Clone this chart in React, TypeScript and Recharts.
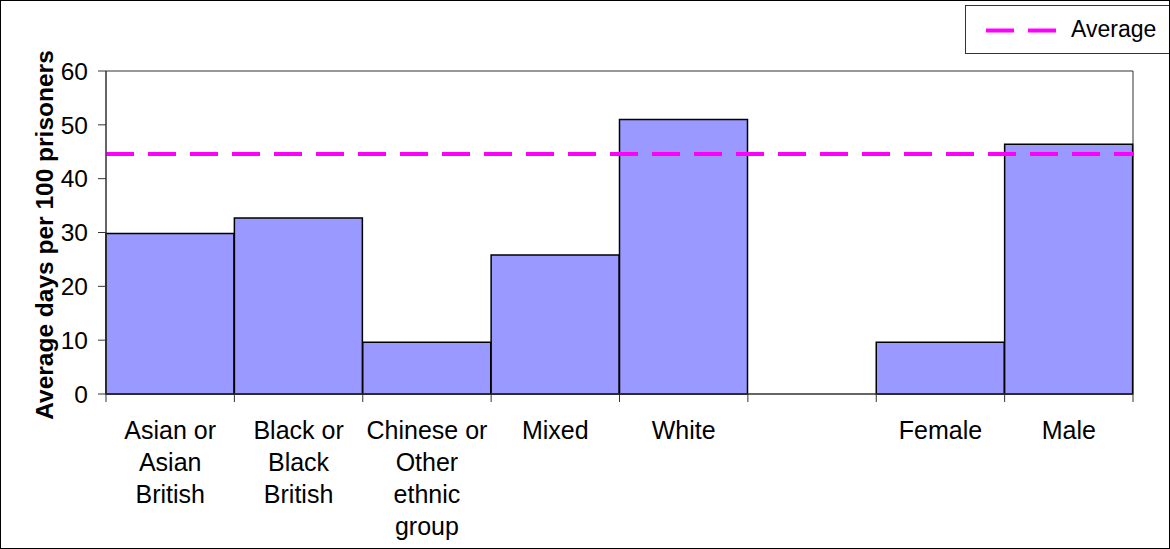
import React from 'react';
import { BarChart, Bar, XAxis, YAxis, ReferenceLine, ReferenceArea, Legend } from 'recharts';

const categories = [
  'Asian or\nAsian\nBritish',
  'Black or\nBlack\nBritish',
  'Chinese or\nOther\nethnic\ngroup',
  'Mixed',
  'White',
  '',
  'Female',
  'Male',
];
const values: (number | null)[] = [29.8, 32.7, 9.6, 25.8, 51.0, null, 9.6, 46.4];
const averageValue = 44.6;
const yTicks = [0, 10, 20, 30, 40, 50, 60];
const yTitle = 'Average days per 100 prisoners';
const legendLabel = 'Average';

const data = categories.map((c, i) => ({ key: 'c' + i, label: c, value: values[i] }));

const FONT = '"Liberation Sans", Arial, sans-serif';

const XTick = (props: any) => {
  const { x, y, payload, index } = props;
  const off = payload.offset || 0;
  const idx = payload.index ?? index;
  const lines = String(categories[idx] ?? '').split('\n');
  const last = idx === categories.length - 1;
  return (
    <g>
      <line x1={x - off} x2={x - off} y1={y} y2={y + 8} stroke="#333" strokeWidth={1} />
      {last && <line x1={x + off} x2={x + off} y1={y} y2={y + 8} stroke="#333" strokeWidth={1} />}
      <text x={x} y={y + 45} textAnchor="middle" fontSize={25} fontFamily={FONT} fill="#000">
        {lines.map((l, i) => (
          <tspan key={i} x={x} dy={i === 0 ? 0 : 32}>{l}</tspan>
        ))}
      </text>
    </g>
  );
};

const LegendBox = () => (
  <svg width={206} height={50} style={{ display: 'block' }}>
    <rect x={0.5} y={0.5} width={204} height={48} fill="#fff" stroke="#333" strokeWidth={1} />
    <line x1={21} x2={91} y1={25.5} y2={25.5} stroke="#FF00FF" strokeWidth={4} strokeDasharray="28 14" />
    <text x={106} y={32} fontSize={23} fontFamily={FONT} fill="#000">{legendLabel}</text>
  </svg>
);

export default function App() {
  return (
    <div style={{ position: 'absolute', left: 0, top: 0, width: 1170, height: 549 }}>
      <BarChart
        width={1170}
        height={549}
        data={data}
        margin={{ top: 71, right: 37, left: 0, bottom: 0 }}
        barCategoryGap={0}
        barGap={0}
      >
        <ReferenceArea x1="c0" x2="c7" y1={0} y2={60} fill="none" stroke="#333" strokeWidth={1} ifOverflow="visible" />
        <XAxis
          dataKey="key"
          height={155}
          interval={0}
          tickSize={0}
          tickMargin={0}
          tickLine={false}
          axisLine={{ stroke: '#333', strokeWidth: 1 }}
          tick={<XTick />}
        />
        <YAxis
          width={106}
          domain={[0, 60]}
          ticks={yTicks}
          interval={0}
          tickSize={8}
          tickMargin={10}
          axisLine={{ stroke: '#333', strokeWidth: 1 }}
          tickLine={{ stroke: '#333', strokeWidth: 1 }}
          tick={{ fontSize: 24.5, fontFamily: FONT, fill: '#000' }}
        />
        <Bar dataKey="value" fill="#9999FF" stroke="#000" strokeWidth={1.5} isAnimationActive={false} />
        <ReferenceLine y={averageValue} stroke="#FF00FF" strokeWidth={4} strokeDasharray="28 14" />
        <Legend
          layout="horizontal"
          verticalAlign="middle"
          align="center"
          content={<LegendBox />}
          wrapperStyle={{ position: 'absolute', left: 965, top: 5, width: 206, height: 50 }}
        />
        <text
          transform="translate(53,235) rotate(-90)"
          textAnchor="middle"
          fontSize={24.5}
          fontWeight="bold"
          fontFamily={FONT}
          fill="#000"
        >
          {yTitle}
        </text>
      </BarChart>
      <div
        style={{
          position: 'absolute',
          left: 0,
          top: 0,
          width: 1170,
          height: 549,
          boxSizing: 'border-box',
          border: '1px solid #000',
          pointerEvents: 'none',
        }}
      />
    </div>
  );
}
